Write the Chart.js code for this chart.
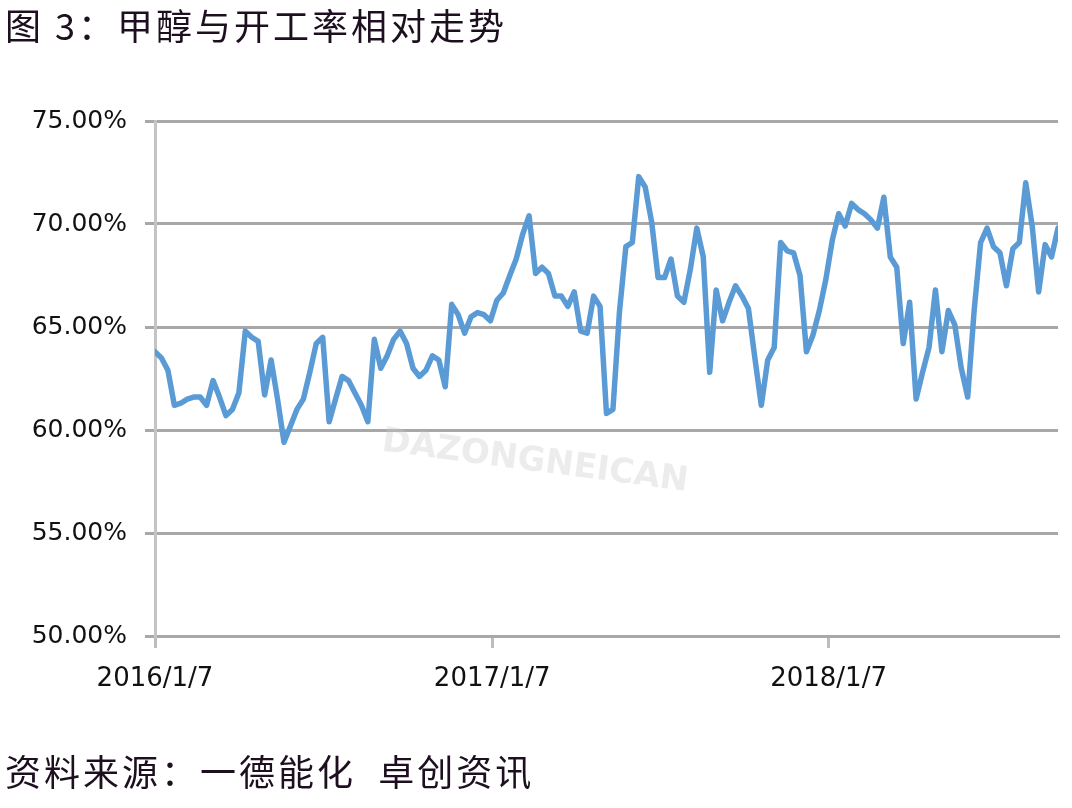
<!DOCTYPE html>
<html>
<head>
<meta charset="utf-8">
<script src="https://cdn.jsdelivr.net/npm/chart.js@4"></script>
<style>
  html, body { margin:0; padding:0; background:#ffffff; }
  #wrap { position:relative; width:1072px; height:808px; overflow:hidden; background:#fff; }
  #chart { position:absolute; left:0; top:0; }
  .txt { position:absolute; font-family:"Noto Sans CJK SC", sans-serif; font-size:36px; color:#1d0f1f; white-space:pre; line-height:1; letter-spacing:3px; }
  #title { left:5px; top:6px; }
  #source { left:5px; top:752px; }
</style>
</head>
<body>
<div id="wrap">
  <canvas id="chart" width="1072" height="808"></canvas>
  <div class="txt" id="title">图 3：甲醇与开工率相对走势</div>
  <div class="txt" id="source">资料来源：一德能化  卓创资讯</div>
</div>
<script>
// Weekly methanol operating rate (%), starting 2016/1/7
const startDate = "2016/1/7";
const rateValues = [
  63.8, 63.5, 62.9, 61.2, 61.3, 61.5, 61.6, 61.6, 61.2, 62.4,
  61.6, 60.7, 61.0, 61.8, 64.8, 64.5, 64.3, 61.7, 63.4, 61.5,
  59.4, 60.2, 61.0, 61.5, 62.8, 64.2, 64.5, 60.4, 61.5, 62.6,
  62.4, 61.8, 61.2, 60.4, 64.4, 63.0, 63.6, 64.4, 64.8, 64.2,
  63.0, 62.6, 62.9, 63.6, 63.4, 62.1, 66.1, 65.6, 64.7, 65.5,
  65.7, 65.6, 65.3, 66.3, 66.65, 67.5, 68.3, 69.5, 70.4, 67.6,
  67.9, 67.6, 66.5, 66.5, 66.0, 66.7, 64.8, 64.7, 66.5, 66.0,
  60.8, 61.0, 65.7, 68.9, 69.1, 72.3, 71.8, 70.1, 67.4, 67.4,
  68.3, 66.5, 66.2, 67.8, 69.8, 68.4, 62.8, 66.8, 65.3, 66.2,
  67.0, 66.5, 65.9, 63.5, 61.2, 63.4, 64.0, 69.1, 68.7, 68.6,
  67.5, 63.8, 64.6, 65.8, 67.3, 69.2, 70.5, 69.9, 71.0, 70.7,
  70.5, 70.2, 69.8, 71.3, 68.4, 67.9, 64.2, 66.2, 61.5, 62.8,
  64.0, 66.8, 63.8, 65.8, 65.1, 63.0, 61.6, 65.8, 69.1, 69.8,
  68.9, 68.6, 67.0, 68.8, 69.1, 72.0, 69.9, 66.7, 69.0, 68.4,
  69.8
];
const tickLabels = ["2016/1/7", "2017/1/7", "2018/1/7"];
const tickDays = [0, 366, 731];
const yTicks = [50, 55, 60, 65, 70, 75];

// build points: x = days since start (weekly), y = value
const points = rateValues.map((v, i) => ({ x: i * 7, y: v }));
const lastDay = (rateValues.length - 1) * 7;

const watermark = {
  id: 'watermark',
  beforeDatasetsDraw(chart) {
    const ctx = chart.ctx;
    ctx.save();
    ctx.translate(535, 462);
    ctx.rotate(7.5 * Math.PI / 180);
    ctx.font = 'bold 34px "DejaVu Sans", sans-serif';
    ctx.fillStyle = 'rgba(200,200,200,0.35)';
    ctx.textAlign = 'center';
    ctx.textBaseline = 'middle';
    ctx.fillText('DAZONGNEICAN', 0, 0);
    ctx.restore();
  }
};

new Chart(document.getElementById('chart'), {
  type: 'line',
  data: {
    datasets: [{
      data: points,
      borderColor: '#5b9bd5',
      borderWidth: 5.5,
      pointRadius: 0,
      tension: 0,
      fill: false,
      borderJoinStyle: 'round',
      borderCapStyle: 'round'
    }]
  },
  options: {
    responsive: false,
    animation: false,
    events: [],
    layout: { padding: { left: 0, top: 121, right: 14, bottom: 0 } },
    plugins: { legend: { display: false }, tooltip: { enabled: false } },
    scales: {
      x: {
        type: 'linear',
        min: 0,
        max: lastDay,
        afterFit(scale) { scale.height = 808 - 636; },
        afterBuildTicks(scale) { scale.ticks = tickDays.map(v => ({ value: v })); },
        grid: {
          drawOnChartArea: false,
          drawTicks: true,
          tickLength: 12,
          color: '#bdbdbd',
          lineWidth: 3
        },
        border: { display: true, color: '#a8a8a8', width: 3 },
        ticks: {
          autoSkip: false,
          maxRotation: 0,
          padding: 16,
          color: '#111111',
          font: { family: '"DejaVu Sans", sans-serif', size: 26 },
          callback(value) {
            const i = tickDays.indexOf(value);
            return i >= 0 ? tickLabels[i] : '';
          }
        }
      },
      y: {
        min: 50,
        max: 75,
        afterFit(scale) { scale.width = 155; },
        afterBuildTicks(scale) { scale.ticks = yTicks.map(v => ({ value: v })); },
        grid: {
          color: '#a8a8a8',
          lineWidth: 3,
          drawTicks: true,
          tickLength: 10
        },
        border: { display: true, color: '#c4c4c4', width: 3 },
        ticks: {
          padding: 18,
          color: '#111111',
          font: { family: '"DejaVu Sans", sans-serif', size: 25 },
          callback(value) { return value.toFixed(2) + '%'; }
        }
      }
    }
  },
  plugins: [watermark]
});
</script>
</body>
</html>
